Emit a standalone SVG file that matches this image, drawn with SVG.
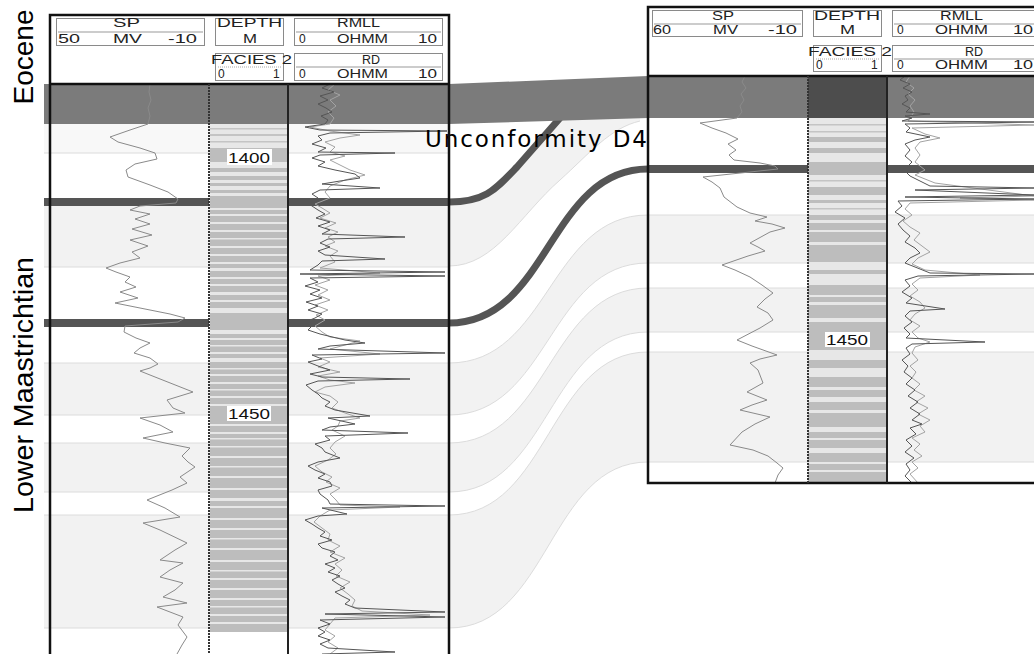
<svg xmlns="http://www.w3.org/2000/svg" width="1034" height="654" viewBox="0 0 1034 654">
<style>
.zone{fill:#f2f2f2}
.zl{fill:#f8f8f8}
.edge{fill:none;stroke:#dcdcdc;stroke-width:1}
.band{fill:#7b7b7b}
.dbase{fill:#bdbdbd}
.dlt{fill:#e7e7e7}
.dgr{fill:#c4c4c4}
.hz{fill:none;stroke:#555;stroke-width:8}
.hzc{fill:none;stroke:#555;stroke-width:7}
.sp{fill:none;stroke:#8a8a8a;stroke-width:1}
.rd{fill:none;stroke:#555;stroke-width:1}
.rm{fill:none;stroke:#a3a3a3;stroke-width:1}
.frame{fill:none;stroke:#111;stroke-width:2.5}
.sep{fill:none;stroke:#222;stroke-width:2}
.sepd{fill:none;stroke:#333;stroke-width:2;stroke-dasharray:2 1}
.hbox{fill:none;stroke:#8a8a8a;stroke-width:1}
.hl{fill:none;stroke:#999;stroke-width:1}
.hld{fill:none;stroke:#aaa;stroke-width:1;stroke-dasharray:1 1}
.ht{font-family:"Liberation Sans",Arial,sans-serif;font-size:12px;fill:#222}
.dl{fill:#fff}
.dt{font-family:"Liberation Sans",Arial,sans-serif;font-size:15px;fill:#111}
.big{font-family:"Liberation Sans",Arial,sans-serif;font-size:28px;fill:#000}
.unc{font-family:"DejaVu Sans",Verdana,sans-serif;font-size:23px;fill:#000}
</style>
<rect x="0" y="0" width="1034" height="654" fill="#fff"/>

<g id="zones">
  <rect class="zl" x="44" y="124" width="405" height="29"/>
  <rect class="zone" x="44" y="205" width="405" height="62"/>
  <rect class="zone" x="44" y="363" width="405" height="52"/>
  <rect class="zone" x="44" y="443" width="405" height="49"/>
  <rect class="zone" x="44" y="515" width="405" height="113"/>
  <rect class="zone" x="648" y="215" width="386" height="48"/>
  <rect class="zone" x="648" y="288" width="386" height="44"/>
  <rect class="zone" x="648" y="352" width="386" height="110"/>
  <path class="edge" d="M44,153H449M44,267H449M44,363H449M44,415H449M44,443H449M44,492H449M44,515H449M44,628H449M648,215H1034M648,263H1034M648,288H1034M648,332H1034M648,352H1034M648,462H1034"/>
</g>

<g id="connectors">
  <path class="zone" d="M449,202C485,202 495,190 517,167L557,122L557,110L640,110L640,121C610,128 590,153 560,180C520,215 495,266 449,266Z"/>
  <path class="zone" d="M449,363C549,363 549,215 648,215L648,263C549,263 549,415 449,415Z"/>
  <path class="zone" d="M449,443C549,443 549,288 648,288L648,332C549,332 549,492 449,492Z"/>
  <path class="zone" d="M449,515C549,515 549,352 648,352L648,462C549,462 549,628 449,628Z"/>
  <path class="edge" d="M449,266C495,266 520,215 560,180C590,153 610,128 640,121"/>
  <path class="edge" d="M449,363C549,363 549,215 648,215M449,415C549,415 549,263 648,263M449,443C549,443 549,288 648,288M449,492C549,492 549,332 648,332M449,515C549,515 549,352 648,352M449,628C549,628 549,462 648,462"/>
  <path class="hzc" d="M449,202C485,202 495,190 517,167L560,118"/>
  <path class="hzc" d="M449,323C549,323 549,169 648,169"/>
</g>

<g id="horizons">
  <path class="hz" d="M44,202H209M288,202H449M44,323H209M288,323H449M648,169H808M887,169H1034"/>
</g>

<g id="eocene-band">
  <path class="band" d="M44,84L449,84L648,76L1034,76L1034,118L648,118L449,124L44,124Z"/>
  <rect x="808" y="76" width="79" height="42" fill="#4d4d4d"/>
</g>

<g id="well-left">
  <rect class="dbase" x="210" y="124" width="78" height="508"/>
  <path class="dlt" d="M210,124h78v24h-78zM210,162h78v6h-78zM210,172h78v4h-78zM210,180h78v3h-78zM210,186h78v4h-78zM210,193h78v3h-78zM210,208h78v2h-78zM210,214h78v2h-78zM210,222h78v2h-78zM210,230h78v2h-78zM210,238h78v1.5h-78zM210,246h78v2h-78zM210,254h78v2h-78zM210,262h78v2h-78zM210,268h78v3h-78zM210,277h78v2h-78zM210,284h78v2h-78zM210,292h78v3h-78zM210,300h78v2h-78zM210,308h78v5h-78zM210,330h78v4h-78zM210,338h78v2h-78zM210,345h78v1.5h-78zM210,352h78v2h-78zM210,358h78v4h-78zM210,368h78v1.5h-78zM210,374h78v2h-78zM210,382h78v2h-78zM210,389h78v1.5h-78zM210,396h78v2h-78zM210,404h78v2h-78zM210,424h78v2h-78zM210,432h78v2h-78zM210,438h78v1.5h-78zM210,446h78v1.5h-78zM210,456h78v2h-78zM210,466h78v1.5h-78zM210,476h78v2h-78zM210,488h78v2h-78zM210,498h78v3h-78zM210,506h78v2h-78zM210,518h78v2h-78zM210,528h78v2h-78zM210,538h78v1.5h-78zM210,548h78v2h-78zM210,560h78v2h-78zM210,570h78v1.5h-78zM210,578h78v2h-78zM210,588h78v2h-78zM210,598h78v2h-78zM210,606h78v1.5h-78zM210,614h78v2h-78zM210,622h78v2h-78z"/>
  <path class="dgr" d="M210,128h78v1.5h-78zM210,134h78v2h-78zM210,141h78v1.5h-78z"/>
  <polyline class="sp" points="150,84 149,92 151,100 148,108 150,116 148,124 130,130 110,137 118,142 140,148 155,153 157,159 135,164 126,170 128,177 150,185 168,192 178,199 176,203 140,206 130,210 150,214 135,219 150,224 132,229 152,235 130,240 148,246 132,252 140,258 120,263 106,268 116,272 130,277 125,282 136,287 120,292 138,298 115,303 145,309 170,314 185,318 178,322 125,326 124,332 136,338 150,343 140,348 134,353 150,358 158,364 150,368 140,371 150,375 193,392 167,400 173,408 185,413 140,418 160,425 173,432 143,438 165,443 190,448 182,456 188,462 195,467 180,477 187,483 172,490 147,500 165,508 180,517 143,523 160,530 187,543 175,550 160,560 183,563 170,570 160,577 183,583 175,590 163,597 187,603 157,607 170,612 183,617 178,625 187,637 182,645 177,654"/>
  <polyline class="rm" points="335,84 328,90 340,95 330,100 336,106 328,112 334,118 330,124 310,127 330,131 360,135 340,138 325,142 335,147 330,152 345,156 330,160 340,165 350,170 365,175 345,180 330,186 325,192 330,198 315,204 322,208 330,213 320,218 336,223 325,228 338,232 328,237 335,242 325,246 338,251 330,256 335,262 320,268 380,273 318,276 330,280 315,285 328,290 318,295 330,300 315,305 328,310 316,315 325,320 315,326 322,332 330,337 360,341 345,345 330,349 380,354 320,358 330,362 318,367 340,372 318,376 330,380 355,383 325,387 315,392 330,396 338,402 332,408 345,413 360,418 340,421 338,426 332,430 345,436 335,442 330,448 336,454 328,460 315,466 322,472 332,477 326,482 340,488 330,494 336,500 340,505 400,507 330,510 320,516 314,522 322,528 330,534 328,540 340,546 330,552 345,558 335,564 342,570 336,576 350,582 340,588 348,594 355,600 352,606 362,611 430,615 335,618 330,624 325,630 335,636 328,642 338,648 330,654"/>
  <polyline class="rd" points="330,84 322,88 334,92 320,96 328,100 318,104 326,108 332,112 321,116 328,120 325,124 305,127 320,130 447,131 330,133 318,136 322,140 312,144 326,148 318,152 395,153 320,155 312,158 325,162 318,166 335,170 355,174 360,178 340,181 322,184 380,188 320,190 312,194 318,198 306,202 312,206 318,210 325,214 316,218 330,222 318,226 330,230 322,234 405,237 328,239 320,243 330,247 318,251 325,255 385,259 322,261 318,265 310,270 445,272 300,274 445,276 310,278 318,282 305,286 320,290 310,294 322,298 306,302 318,306 308,310 322,314 315,318 305,322 312,326 308,330 320,334 345,340 365,343 330,346 318,349 445,353 312,355 322,359 308,362 318,366 330,370 310,374 322,377 410,379 318,381 306,385 312,390 318,394 322,398 330,402 325,406 335,410 370,416 328,418 355,424 330,427 322,430 408,433 325,436 330,440 315,444 322,448 325,452 340,458 318,462 308,466 315,470 325,474 318,478 330,482 332,486 318,490 320,494 328,500 330,504 445,506 322,508 347,514 318,516 305,520 312,524 318,528 325,532 320,536 332,540 318,544 322,548 335,552 330,556 338,560 325,564 335,568 328,572 340,576 332,580 338,584 345,588 335,592 342,596 350,600 345,604 355,608 445,612 325,614 445,617 320,620 330,624 318,628 325,632 318,636 330,640 320,644 328,648 395,652 322,654"/>
  <rect class="dl" x="227" y="149" width="45" height="16"/>
  <text class="dt" x="228" y="163" textLength="42" lengthAdjust="spacingAndGlyphs">1400</text>
  <rect class="dl" x="227" y="406" width="44" height="15"/>
  <text class="dt" x="228" y="419" textLength="42" lengthAdjust="spacingAndGlyphs">1450</text>
</g>

<g id="well-right">
  <rect class="dbase" x="808" y="118" width="79" height="365"/>
  <path class="dlt" d="M808,118h79v19h-79zM808,142h79v6h-79zM808,153h79v9h-79zM808,175h79v12h-79zM808,195h79v5h-79zM808,203h79v12h-79zM808,220h79v3h-79zM808,230h79v2h-79zM808,242h79v3h-79zM808,262h79v8h-79zM808,274h79v11h-79zM808,295h79v2h-79zM808,302h79v3h-79zM808,318h79v4h-79zM808,350h79v10h-79zM808,368h79v9h-79zM808,387h79v3h-79zM808,397h79v5h-79zM808,410h79v3h-79zM808,427h79v5h-79zM808,438h79v2h-79zM808,448h79v5h-79zM808,462h79v2h-79zM808,470h79v2h-79z"/>
  <path class="dgr" d="M808,124h79v1.5h-79zM808,131h79v1.5h-79zM808,180h79v1.5h-79zM808,208h79v1.5h-79z"/>
  <polyline class="sp" points="745,76 742,82 746,88 741,94 744,100 740,106 742,112 737,118 700,123 712,128 726,133 738,139 728,144 736,150 729,155 734,160 760,163 775,166 778,169 703,177 712,182 720,188 724,197 737,207 750,213 767,217 755,221 772,224 785,228 770,232 750,243 758,247 765,251 748,256 722,265 735,270 750,277 762,285 773,293 765,299 757,307 768,313 773,320 760,328 737,340 752,346 777,355 760,359 750,363 758,370 763,383 747,392 767,400 752,405 740,410 770,417 755,424 742,432 730,445 753,450 768,456 777,463 783,468 778,475 775,483"/>
  <polyline class="rm" points="910,76 906,82 914,88 908,94 915,100 910,106 914,112 910,118 908,121 1034,125 912,128 925,134 940,138 920,142 915,148 920,155 915,162 925,170 915,175 935,183 1034,196 960,198 1034,200 910,203 905,209 912,215 903,221 910,227 920,233 914,240 922,246 930,252 918,258 912,264 925,270 980,275 920,278 912,284 918,290 910,296 920,302 925,308 915,314 910,320 920,326 912,332 918,338 930,342 915,347 912,353 918,360 910,366 916,372 912,378 920,384 914,390 925,396 916,402 928,408 918,414 930,420 920,426 925,432 912,438 920,444 914,450 922,456 912,462 918,468 910,474 918,483"/>
  <polyline class="rd" points="905,76 900,80 910,84 903,88 912,92 905,96 908,100 902,104 910,108 906,112 930,114 905,116 912,118 902,121 1034,122 905,124 910,128 906,132 930,137 915,140 905,144 910,150 905,156 912,162 908,166 904,170 910,176 918,180 930,186 1034,188 915,190 1034,195 905,197 1034,199 898,201 902,206 895,212 905,218 898,224 903,230 910,236 905,242 915,248 920,253 910,258 905,263 930,273 1034,274 918,276 905,280 910,286 902,292 912,298 906,303 945,309 910,311 905,316 912,322 904,328 910,334 906,338 985,342 912,344 906,348 910,354 902,360 908,366 904,372 912,378 906,384 915,390 908,396 918,402 910,408 920,414 912,420 922,424 910,428 916,434 906,440 912,446 905,452 914,458 906,464 910,470 905,476 912,483"/>
  <rect class="dl" x="825" y="332" width="45" height="15"/>
  <text class="dt" x="826" y="345" textLength="42" lengthAdjust="spacingAndGlyphs">1450</text>
</g>

<text id="unconformity-label" class="unc" x="425" y="147" textLength="222" lengthAdjust="spacing">Unconformity D4</text>

<g id="frames">
  <path class="frame" d="M50,656V15H449V656M50,84H449"/>
  <path class="sepd" d="M209,84V654"/>
  <path class="sep" d="M288,84V654"/>
  <path class="frame" d="M1040,483H648V7H1040M648,76H1034"/>
  <path class="sepd" d="M808,76V483"/>
  <path class="sep" d="M887,76V483"/>
</g>

<g id="header-left">
  <rect class="hbox" x="56.5" y="18.5" width="148" height="27"/>
  <rect class="hbox" x="215.5" y="18.5" width="68" height="27"/>
  <rect class="hbox" x="294.5" y="18.5" width="148" height="27"/>
  <rect class="hbox" x="215.5" y="53.5" width="68" height="27"/>
  <rect class="hbox" x="294.5" y="53.5" width="148" height="27"/>
  <path class="hl" d="M58,32H203M296,32H441M296,67H441"/>
  <path class="hld" d="M218,67H281"/>
  <text class="ht" x="113" y="27" textLength="27" lengthAdjust="spacingAndGlyphs">SP</text>
  <text class="ht" x="217" y="27" textLength="65" lengthAdjust="spacingAndGlyphs">DEPTH</text>
  <text class="ht" x="337" y="27" textLength="43" lengthAdjust="spacingAndGlyphs">RMLL</text>
  <text class="ht" x="58" y="43" textLength="22" lengthAdjust="spacingAndGlyphs">50</text>
  <text class="ht" x="113" y="43" textLength="29" lengthAdjust="spacingAndGlyphs">MV</text>
  <text class="ht" x="168" y="43" textLength="29" lengthAdjust="spacingAndGlyphs">-10</text>
  <text class="ht" x="243" y="43" textLength="14" lengthAdjust="spacingAndGlyphs">M</text>
  <text class="ht" x="299" y="43">0</text>
  <text class="ht" x="337" y="43" textLength="51" lengthAdjust="spacingAndGlyphs">OHMM</text>
  <text class="ht" x="418" y="43" textLength="19" lengthAdjust="spacingAndGlyphs">10</text>
  <text class="ht" x="211" y="64" textLength="81" lengthAdjust="spacingAndGlyphs">FACIES 2</text>
  <text class="ht" x="362" y="64" textLength="18" lengthAdjust="spacingAndGlyphs">RD</text>
  <text class="ht" x="218" y="78">0</text>
  <text class="ht" x="273" y="78">1</text>
  <text class="ht" x="299" y="78">0</text>
  <text class="ht" x="337" y="78" textLength="51" lengthAdjust="spacingAndGlyphs">OHMM</text>
  <text class="ht" x="418" y="78" textLength="19" lengthAdjust="spacingAndGlyphs">10</text>
</g>

<g id="header-right">
  <rect class="hbox" x="652.5" y="10.5" width="150" height="26"/>
  <rect class="hbox" x="813.5" y="10.5" width="68" height="26"/>
  <rect class="hbox" x="892.5" y="10.5" width="150" height="26"/>
  <rect class="hbox" x="813.5" y="45.5" width="68" height="26"/>
  <rect class="hbox" x="892.5" y="45.5" width="150" height="26"/>
  <path class="hl" d="M654,24H801M894,24H1034M894,59H1034"/>
  <path class="hld" d="M816,59H879"/>
  <text class="ht" x="712" y="20" textLength="22" lengthAdjust="spacingAndGlyphs">SP</text>
  <text class="ht" x="814" y="20" textLength="66" lengthAdjust="spacingAndGlyphs">DEPTH</text>
  <text class="ht" x="940" y="20" textLength="43" lengthAdjust="spacingAndGlyphs">RMLL</text>
  <text class="ht" x="653" y="34" textLength="18" lengthAdjust="spacingAndGlyphs">60</text>
  <text class="ht" x="713" y="34" textLength="25" lengthAdjust="spacingAndGlyphs">MV</text>
  <text class="ht" x="768" y="34" textLength="29" lengthAdjust="spacingAndGlyphs">-10</text>
  <text class="ht" x="840" y="34" textLength="15" lengthAdjust="spacingAndGlyphs">M</text>
  <text class="ht" x="897" y="34">0</text>
  <text class="ht" x="935" y="34" textLength="53" lengthAdjust="spacingAndGlyphs">OHMM</text>
  <text class="ht" x="1013" y="34" textLength="20" lengthAdjust="spacingAndGlyphs">10</text>
  <text class="ht" x="808" y="56" textLength="84" lengthAdjust="spacingAndGlyphs">FACIES 2</text>
  <text class="ht" x="965" y="56" textLength="18" lengthAdjust="spacingAndGlyphs">RD</text>
  <text class="ht" x="816" y="69">0</text>
  <text class="ht" x="871" y="69">1</text>
  <text class="ht" x="897" y="69">0</text>
  <text class="ht" x="935" y="69" textLength="53" lengthAdjust="spacingAndGlyphs">OHMM</text>
  <text class="ht" x="1013" y="69" textLength="20" lengthAdjust="spacingAndGlyphs">10</text>
</g>

<g id="stage-labels">
  <text class="big" transform="translate(33,57) rotate(-90)" text-anchor="middle">Eocene</text>
  <text class="big" transform="translate(33,385) rotate(-90)" text-anchor="middle" textLength="256" lengthAdjust="spacingAndGlyphs">Lower Maastrichtian</text>
</g>
</svg>
